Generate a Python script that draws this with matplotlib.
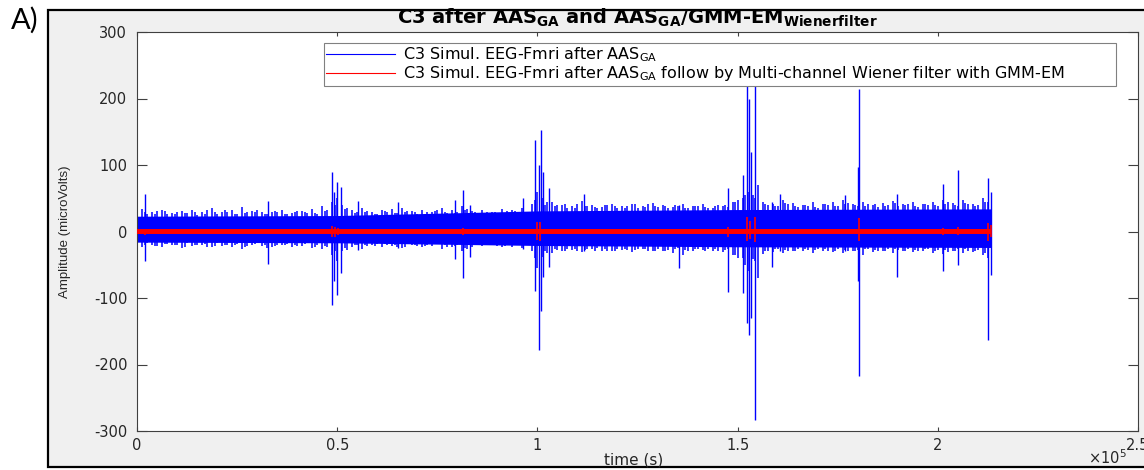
import numpy as np
import matplotlib
matplotlib.use("Agg")
import matplotlib.pyplot as plt
from matplotlib.lines import Line2D
from matplotlib.patches import Rectangle

plt.rcParams["font.family"] = ["DejaVu Sans"]
plt.rcParams["mathtext.default"] = "regular"
plt.rcParams["axes.unicode_minus"] = False

# ---- values (x in samples, y in microvolts) ----
# blue trace (after AAS_GA): solid core band, three staggered sets of window
# extremes (the ragged edge of the band) and the large spikes
core_x = [0, 50000, 100000, 150000, 213400]
core_hi = [23, 24, 31, 33, 34]
core_lo = [-16, -17, -21, -23, -24]

win_x = np.arange(1250, 213000, 2500)
win_hi = [34, 30, 32, 28, 31, 33, 29, 35, 30, 32,
          37, 31, 29, 30, 33, 28, 31, 34, 38, 45,
          40, 33, 35, 30, 32, 34, 36, 31, 33, 30,
          35, 32, 38, 31, 33, 30, 34, 32, 36, 42,
          50, 44, 40, 38, 46, 40, 37, 42, 39, 41,
          38, 43, 40, 37, 42, 39, 41, 36, 38, 44,
          50, 55, 45, 42, 48, 43, 40, 44, 41, 45,
          47, 42, 44, 40, 43, 46, 41, 44, 42, 45,
          47, 43, 48, 42, 50]
win_lo = [-24, -21, -23, -20, -25, -22, -21, -24, -22, -23,
          -26, -21, -22, -24, -20, -23, -22, -25, -27, -35,
          -30, -24, -26, -21, -23, -22, -25, -21, -24, -22,
          -26, -23, -30, -24, -22, -21, -24, -23, -25, -30,
          -38, -33, -29, -28, -31, -27, -29, -30, -28, -31,
          -27, -30, -29, -32, -35, -29, -28, -30, -31, -36,
          -40, -42, -34, -31, -33, -30, -29, -32, -30, -31,
          -33, -29, -35, -31, -30, -32, -29, -31, -30, -33,
          -34, -30, -32, -31, -35]

mid_x = np.arange(2500, 213000, 2500)
mid_hi = [27, 31, 26, 30, 28, 25, 32, 27, 29, 26,
          30, 33, 27, 29, 26, 31, 28, 27, 33, 50,
          36, 29, 31, 27, 30, 28, 31, 27, 29, 33,
          28, 30, 34, 28, 30, 27, 31, 29, 30, 60,
          45, 40, 35, 42, 38, 36, 40, 35, 38, 36,
          41, 37, 35, 39, 36, 38, 35, 40, 37, 48,
          60, 70, 40, 38, 42, 37, 39, 36, 40, 38,
          43, 39, 41, 37, 40, 38, 42, 37, 40, 38,
          44, 39, 42, 40, 45]
mid_lo = [-18, -22, -19, -21, -17, -20, -23, -18, -21, -19,
          -22, -18, -25, -20, -19, -22, -18, -21, -24, -45,
          -28, -20, -22, -19, -21, -24, -19, -22, -20, -18,
          -23, -20, -26, -21, -19, -22, -20, -21, -19, -55,
          -33, -28, -26, -30, -27, -25, -29, -26, -28, -27,
          -30, -26, -28, -25, -30, -27, -26, -29, -27, -40,
          -60, -70, -30, -27, -29, -26, -28, -27, -29, -26,
          -30, -28, -27, -29, -26, -28, -27, -30, -26, -28,
          -31, -27, -29, -28, -40]

fine_x = np.arange(1875, 213000, 2500)
fine_hi = [29, 27, 31, 26, 28, 30, 27, 29, 32, 27,
           28, 30, 26, 31, 27, 29, 30, 28, 31, 40,
           34, 28, 30, 27, 31, 28, 29, 30, 27, 31,
           29, 28, 33, 29, 27, 30, 28, 31, 29, 48,
           40, 38, 41, 36, 39, 37, 40, 38, 36, 41,
           37, 39, 38, 40, 36, 39, 37, 38, 40, 45,
           55, 50, 41, 39, 43, 38, 40, 37, 41, 39,
           42, 40, 38, 41, 39, 43, 40, 38, 41, 40,
           42, 40, 43, 39, 44]
fine_lo = [-20, -22, -19, -21, -23, -20, -19, -22, -21, -20,
           -23, -19, -21, -22, -20, -21, -19, -23, -22, -30,
           -25, -21, -20, -22, -19, -21, -23, -20, -22, -19,
           -21, -22, -25, -20, -21, -19, -22, -20, -21, -40,
           -30, -27, -29, -26, -28, -30, -27, -29, -26, -28,
           -27, -29, -30, -26, -28, -27, -29, -26, -28, -35,
           -50, -45, -29, -27, -28, -30, -26, -28, -27, -29,
           -28, -30, -27, -28, -29, -27, -30, -28, -26, -29,
           -28, -30, -27, -29, -33]

spike_x = [2000, 32800, 48700, 49300, 49900, 50900, 55200, 65200, 79400, 81500,
           83200, 96400, 99500, 100300, 100800, 101500, 103000, 111600, 135400, 147700,
           151400, 152300, 152900, 153300, 154300, 158500, 160600, 176800, 180000, 180400,
           189700, 201400, 205000, 212600, 213400]
spike_hi = [57, 46, 89, 60, 75, 67, 46, 44, 47, 62,
            40, 50, 138, 100, 152, 90, 65, 57, 40, 66,
            85, 226, 200, 120, 220, 45, 57, 55, 97, 214,
            57, 72, 92, 81, 60]
spike_lo = [-44, -49, -110, -75, -95, -62, -28, -25, -41, -70,
            -38, -26, -90, -178, -120, -68, -53, -30, -55, -91,
            -93, -138, -156, -130, -284, -53, -30, -30, -75, -217,
            -68, -60, -50, -163, -65]

# red trace (AAS_GA + multi-channel Wiener filter with GMM-EM)
red_x = [0, 213400]
red_hi = [3.5, 3.5]
red_lo = [-3.5, -3.5]
burst_x = [2000, 32800, 48700, 49500, 50200, 81500, 99800, 100700, 147700, 152300,
           153000, 154300, 180200, 201400, 205000, 212600, 213400]
burst_hi = [4, 4, 8, 7, 6, 6, 14, 15, 7, 22, 16, 22, 20, 6, 7, 13, 10]
burst_lo = [-5, -4, -9, -8, -6, -6, -13, -15, -8, -14, -12, -16, -15, -6, -6, -15, -8]

xticks = [0, 50000, 100000, 150000, 200000, 250000]
xtick_labels = ["0", "0.5", "1", "1.5", "2", "2.5"]
yticks = [-300, -200, -100, 0, 100, 200, 300]

title = (r"C3 after AAS$_{\mathbf{GA}}$ and AAS$_{\mathbf{GA}}$"
         r"/GMM-EM$_{\mathbf{Wienerfilter}}$")
label_blue = r"C3 Simul. EEG-Fmri after AAS$_{GA}$"
label_red = (r"C3 Simul. EEG-Fmri after AAS$_{GA}$ follow by "
             r"Multi-channel Wiener filter with GMM-EM")

# ---- layout (pixel geometry of the 1144x470 reference) ----
W, H = 1144, 470


def fx(px):
    return px / W


def fy(py):
    return 1 - py / H


fig = plt.figure(figsize=(W / 100, H / 100), dpi=100)
fig.patch.set_facecolor("white")
fig.add_artist(Rectangle((fx(48), fy(467)), fx(1160) - fx(48), fy(10) - fy(467),
                         transform=fig.transFigure, facecolor="#f0f0f0",
                         edgecolor="black", linewidth=1.6, zorder=0))
fig.text(fx(11), fy(7), "A)", ha="left", va="top", fontsize=21, family=["Lato", "DejaVu Sans"])

ax = fig.add_axes([fx(137), fy(431), fx(1138) - fx(137), fy(32) - fy(431)])
ax.set_facecolor("white")

ax.fill_between(core_x, core_lo, core_hi, color="blue", lw=0, zorder=2)
for xs, lo, hi in ((win_x, win_lo, win_hi), (mid_x, mid_lo, mid_hi), (fine_x, fine_lo, fine_hi)):
    ax.vlines(xs, lo, hi, color="blue", lw=1.1, zorder=2)
ax.vlines(spike_x, spike_lo, spike_hi, color="blue", lw=1.0, zorder=2)
ax.fill_between(red_x, red_lo, red_hi, color="red", lw=0, zorder=3)
ax.vlines(burst_x, burst_lo, burst_hi, color="red", lw=1.2, zorder=3)

ax.set_xlim(0, 250000)
ax.set_ylim(-300, 300)
ax.set_xticks(xticks, xtick_labels)
ax.set_yticks(yticks)
for s in ax.spines.values():
    s.set_color("#404040")
    s.set_linewidth(0.8)
ax.tick_params(direction="in", top=True, right=True, colors="#404040",
               labelcolor="#262626", labelsize=10.5, width=0.8)
ax.tick_params(axis="x", length=3, pad=5)
ax.tick_params(axis="y", length=7, pad=7)

ax.set_title(title, fontweight="bold", fontsize=14, pad=6, color="black")
ax.set_xlabel("time (s)", fontsize=11, color="#262626")
ax.xaxis.set_label_coords(0.4965, -0.053)
ax.set_ylabel("Amplitude (microVolts)", fontsize=9.5, color="#262626",
              family=["Liberation Sans", "DejaVu Sans"])
ax.yaxis.set_label_coords(-0.066, 0.5)
ax.text(0.989, -0.068, r"$\times10^{5}$", transform=ax.transAxes, ha="right",
        va="center", fontsize=10.5, color="#262626")

handles = [Line2D([], [], color="blue", lw=0.8), Line2D([], [], color="red", lw=0.8)]
leg = ax.legend(handles, [label_blue, label_red], loc="upper left",
                bbox_to_anchor=(0.1868, 0.8797, 0.7912, 0.0927), mode="expand",
                borderaxespad=0, fontsize=11.5, handlelength=4.3, handletextpad=0.5,
                borderpad=0.15, labelspacing=0.0, fancybox=False, framealpha=1,
                edgecolor="#808080")
leg.get_frame().set_linewidth(0.8)

fig.savefig("out.png", dpi=100)
